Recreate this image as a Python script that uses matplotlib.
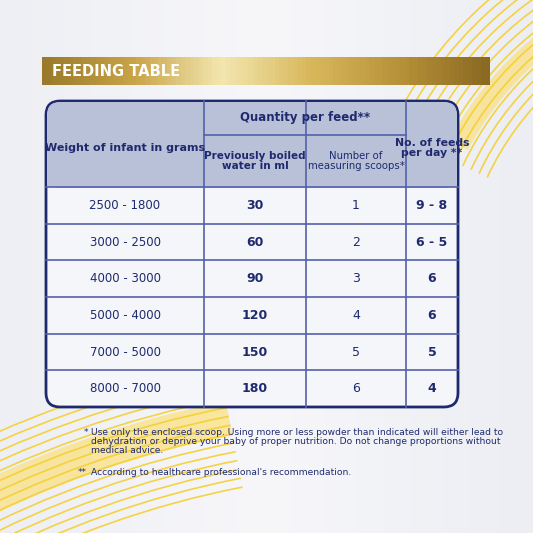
import numpy as np
import matplotlib.pyplot as plt
from matplotlib.patches import FancyBboxPatch, Rectangle, Arc
from matplotlib.colors import LinearSegmentedColormap

weights = ['2500 - 1800', '3000 - 2500', '4000 - 3000', '5000 - 4000', '7000 - 5000', '8000 - 7000']
water_ml = [30, 60, 90, 120, 150, 180]
scoops = [1, 2, 3, 4, 5, 6]
feeds = ['9 - 8', '6 - 5', '6', '6', '5', '4']

navy = '#1f2a6e'
fnt = ['DejaVu Sans']

fig = plt.figure(figsize=(5.33, 5.33), dpi=100)
ax = fig.add_axes([0, 0, 1, 1])
ax.set_xlim(0, 533)
ax.set_ylim(533, 0)
ax.axis('off')

# background
bg = np.linspace(0, 1, 100).reshape(1, -1)
ax.imshow(bg, extent=[0, 533, 533, 0], cmap=LinearSegmentedColormap.from_list('bg', ['#eeeff4', '#f7f7fa', '#eceef3']), aspect='auto', zorder=0)

# yellow arcs, bottom left
c1 = (420, 1400)
ax.add_patch(Arc(c1, 2 * 1000, 2 * 1000, theta1=240, theta2=259, color='#fbe07a', lw=25, alpha=0.7, zorder=1))
for r in np.arange(930, 1060, 9):
    ax.add_patch(Arc(c1, 2 * r, 2 * r, theta1=225, theta2=259, color='#f5cf30', lw=1.2, alpha=0.9, zorder=1))
# top right
c2 = (750, 300)
ax.add_patch(Arc(c2, 2 * 330, 2 * 330, theta1=208, theta2=240, color='#fbe07a', lw=15, alpha=0.7, zorder=1))
for r in np.arange(290, 400, 9):
    ax.add_patch(Arc(c2, 2 * r, 2 * r, theta1=205, theta2=250, color='#f5cf30', lw=1.2, alpha=0.9, zorder=1))

# gold banner
gold = LinearSegmentedColormap.from_list('gold', ['#9a7a2a', '#c9a447', '#f3e7b0', '#d9b85c', '#b8923a', '#8a6a22'])
ax.imshow(bg, extent=[42, 490, 85, 57], cmap=gold, aspect='auto', zorder=2)
ax.text(52, 72, 'FEEDING TABLE', color='white', fontsize=10.5, fontweight='bold', va='center', ha='left', zorder=3)

# table
L, R, T, B = 46, 458, 101, 407
cols = [L, 204, 306, 406, R]
hdr_mid, hdr_bot = 135, 187
rows = np.linspace(hdr_bot, B, len(weights) + 1)

ax.add_patch(FancyBboxPatch((L, T), R - L, B - T, boxstyle='round,pad=0,rounding_size=14',
                            fc='#f5f6fa', ec=navy, lw=2, zorder=3))
ax.add_patch(FancyBboxPatch((L + 1, T + 1), R - L - 2, hdr_bot - T, boxstyle='round,pad=0,rounding_size=13',
                            fc='#b9c1d8', ec='none', zorder=3))
ax.add_patch(Rectangle((L + 1, hdr_bot - 20), R - L - 2, 20, fc='#b9c1d8', ec='none', zorder=3))

lc = '#5560a8'
for x in cols[1:4]:
    ax.plot([x, x], [T, B], color=lc, lw=1.2, zorder=4)
ax.plot([cols[1], cols[3]], [hdr_mid, hdr_mid], color=lc, lw=1.2, zorder=4)
for y in rows[:-1]:
    ax.plot([L, R], [y, y], color=lc, lw=1.2, zorder=4)

kw = dict(color=navy, ha='center', va='center', family=fnt, zorder=5)
ax.text((cols[0] + cols[1]) / 2, (T + hdr_bot) / 2 + 4, 'Weight of infant in grams', fontsize=8, fontweight='bold', **kw)
ax.text((cols[1] + cols[3]) / 2, (T + hdr_mid) / 2, 'Quantity per feed**', fontsize=8.5, fontweight='bold', **kw)
ax.text((cols[1] + cols[2]) / 2, (hdr_mid + hdr_bot) / 2, 'Previously boiled\nwater in ml', fontsize=7.5, fontweight='bold', linespacing=1.0, **kw)
ax.text((cols[2] + cols[3]) / 2, (hdr_mid + hdr_bot) / 2, 'Number of\nmeasuring scoops*', fontsize=7.3, linespacing=1.0, **kw)
ax.text((cols[3] + cols[4]) / 2, (T + hdr_bot) / 2 + 4, 'No. of feeds\nper day **', fontsize=7.8, fontweight='bold', linespacing=1.0, **kw)

for i in range(len(weights)):
    y = (rows[i] + rows[i + 1]) / 2
    ax.text((cols[0] + cols[1]) / 2, y, weights[i], fontsize=8.5, **kw)
    ax.text((cols[1] + cols[2]) / 2, y, str(water_ml[i]), fontsize=9, fontweight='bold', **kw)
    ax.text((cols[2] + cols[3]) / 2, y, str(scoops[i]), fontsize=9, **kw)
    ax.text((cols[3] + cols[4]) / 2, y, feeds[i], fontsize=9, fontweight='bold', **kw)

# footnotes
fk = dict(color=navy, ha='left', va='top', family=fnt, fontsize=6.6, zorder=5, linespacing=1.0)
ax.text(84, 428, '*', **fk)
ax.text(91, 428, 'Use only the enclosed scoop. Using more or less powder than indicated will either lead to\n'
        'dehydration or deprive your baby of proper nutrition. Do not change proportions without\n'
        'medical advice.', **fk)
ax.text(78, 468, '**', **fk)
ax.text(91, 468, "According to healthcare professional's recommendation.", **fk)

fig.savefig('out.png', dpi=100)
